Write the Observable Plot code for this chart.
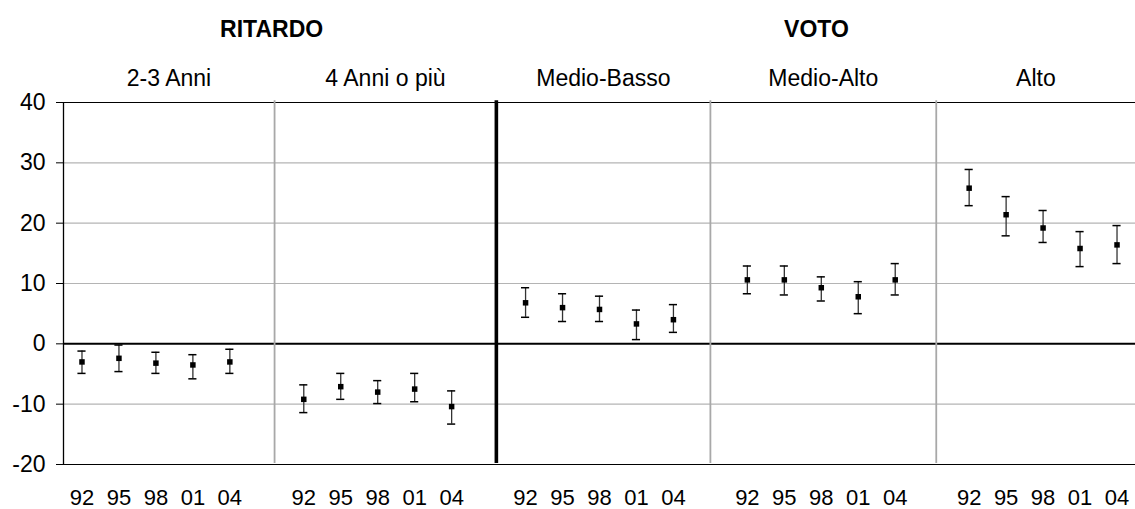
<!DOCTYPE html>
<html>
<head>
<meta charset="utf-8">
<script src="https://cdn.jsdelivr.net/npm/d3@7"></script>
<script src="https://cdn.jsdelivr.net/npm/@observablehq/plot@0.6"></script>
<style>
  html, body { margin: 0; padding: 0; background: #fff; }
  #chart svg { display: block; }
</style>
</head>
<body>
<div id="chart"></div>
<script>
// ---- Data ----
const groups = ["RITARDO", "VOTO"];
const panels = ["2-3 Anni", "4 Anni o più", "Medio-Basso", "Medio-Alto", "Alto"];
const years = ["92", "95", "98", "01", "04"];
const yTicks = [-20, -10, 0, 10, 20, 30, 40];

// point estimates per panel (one value per year)
const stima_2_3anni    = [-3.0, -2.4, -3.2, -3.5, -3.0];
const stima_4anni      = [-9.2, -7.1, -8.0, -7.5, -10.4];
const stima_medioBasso = [6.8, 6.0, 5.7, 3.3, 4.0];
const stima_medioAlto  = [10.6, 10.6, 9.3, 7.8, 10.6];
const stima_alto       = [25.8, 21.4, 19.2, 15.8, 16.4];

// lower bounds of the intervals
const inf_2_3anni    = [-4.9, -4.6, -4.9, -5.8, -4.9];
const inf_4anni      = [-11.4, -9.2, -9.9, -9.6, -13.3];
const inf_medioBasso = [4.4, 3.7, 3.7, 0.7, 1.9];
const inf_medioAlto  = [8.3, 8.1, 7.1, 5.0, 8.1];
const inf_alto       = [22.9, 17.9, 16.8, 12.8, 13.3];

// upper bounds of the intervals
const sup_2_3anni    = [-1.2, -0.2, -1.4, -1.8, -0.9];
const sup_4anni      = [-6.8, -4.9, -6.1, -4.9, -7.8];
const sup_medioBasso = [9.3, 8.3, 7.9, 5.6, 6.5];
const sup_medioAlto  = [12.9, 12.9, 11.1, 10.3, 13.3];
const sup_alto       = [28.9, 24.4, 22.1, 18.6, 19.6];

// ---- Build table ----
const stime = [stima_2_3anni, stima_4anni, stima_medioBasso, stima_medioAlto, stima_alto];
const infs  = [inf_2_3anni, inf_4anni, inf_medioBasso, inf_medioAlto, inf_alto];
const sups  = [sup_2_3anni, sup_4anni, sup_medioBasso, sup_medioAlto, sup_alto];

const slot = 6; // 5 years + 1 empty slot per panel
const rows = [];
panels.forEach((p, pi) => {
  years.forEach((yr, yi) => {
    rows.push({panel: p, year: yr, x: pi * slot + yi + 0.5,
               v: stime[pi][yi], lo: infs[pi][yi], hi: sups[pi][yi]});
  });
});

// layout (in x-scale units)
const separators = [5.71, 11.71, 17.5, 23.61];
const bounds = [0, ...separators, 29];
const panelLabels = panels.map((p, i) => ({label: p, x: (bounds[i] + bounds[i + 1]) / 2}));
const groupLabels = [{label: groups[0], x: 5.63}, {label: groups[1], x: 20.37}];
const capHalf = 0.11;

const font = "'Liberation Sans', Arial, Helvetica, sans-serif";

const chart = Plot.plot({
  width: 1135,
  height: 509,
  marginTop: 102,
  marginBottom: 45,
  marginLeft: 63,
  marginRight: 0,
  style: {fontFamily: font, fontSize: "23px", color: "#000", background: "#fff", overflow: "visible"},
  x: {domain: [0, 29], axis: null},
  y: {domain: [-20, 40], axis: null},
  marks: [
    // grid
    Plot.ruleY([-10, 10, 20, 30], {stroke: "#b4b4b4", strokeWidth: 1.2}),
    // frame lines
    Plot.ruleY([-20, 40], {stroke: "#000", strokeWidth: 1}),
    Plot.ruleY([0], {stroke: "#000", strokeWidth: 2}),
    // panel separators
    Plot.ruleX([separators[0], separators[2], separators[3]], {stroke: "#a8a8a8", strokeWidth: 1.8, y1: -19.85, y2: 40.3}),
    Plot.ruleX([separators[1]], {stroke: "#000", strokeWidth: 3.6, y1: -19.85, y2: 40.3}),
    // y axis
    Plot.ruleX([0], {stroke: "#000", strokeWidth: 1.3}),
    Plot.axisY({ticks: yTicks, tickSize: 7, tickPadding: 11, fontSize: 23, tickFormat: d => String(d)}),
    // error bars
    Plot.ruleX(rows, {x: "x", y1: "lo", y2: "hi", stroke: "#333", strokeWidth: 1.3}),
    Plot.ruleY(rows, {x1: d => d.x - capHalf, x2: d => d.x + capHalf, y: "lo", stroke: "#000", strokeWidth: 1.5}),
    Plot.ruleY(rows, {x1: d => d.x - capHalf, x2: d => d.x + capHalf, y: "hi", stroke: "#000", strokeWidth: 1.5}),
    // points
    Plot.dot(rows, {x: "x", y: "v", symbol: "square", r: 3.1, fill: "#000", stroke: "none"}),
    // x labels (years)
    Plot.text(rows, {x: "x", text: "year", frameAnchor: "bottom", lineAnchor: "bottom", dy: 40, fontSize: 22, fill: "#000"}),
    // panel labels
    Plot.text(panelLabels, {x: "x", text: "label", frameAnchor: "top", lineAnchor: "bottom", dy: -16.5, fontSize: 23, fill: "#000"}),
    // group labels
    Plot.text(groupLabels, {x: "x", text: "label", frameAnchor: "top", lineAnchor: "bottom", dy: -65.3, fontSize: 23, fontWeight: "bold", fill: "#000"})
  ]
});

document.getElementById("chart").appendChild(chart);
</script>
</body>
</html>
